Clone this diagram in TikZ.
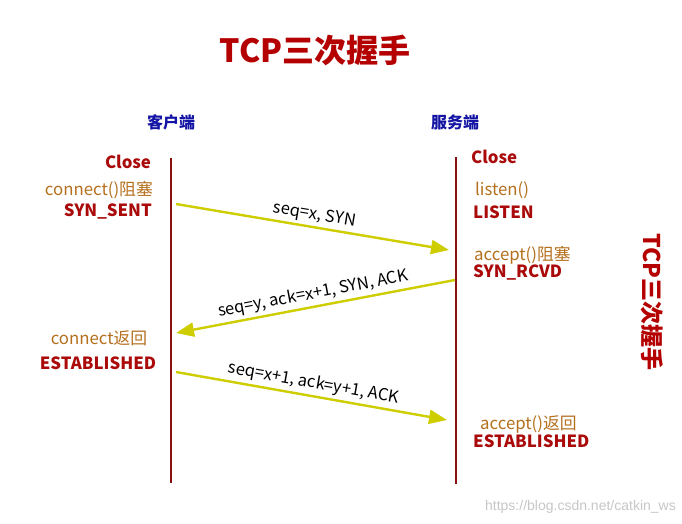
\documentclass[tikz,border=0pt]{standalone}
\usepackage{fontspec}
\setmainfont{Noto Sans CJK SC}
\newfontfamily\wmfont{Liberation Sans}
\usetikzlibrary{arrows.meta}
\definecolor{dred}{RGB}{170,10,10}
\definecolor{tred}{RGB}{180,0,0}
\definecolor{lifec}{RGB}{140,15,15}
\definecolor{brownc}{RGB}{181,112,30}
\definecolor{bluec}{RGB}{20,20,165}
\definecolor{msgc}{RGB}{205,205,0}
\tikzset{
  stateb/.style={font=\fontsize{16.8}{18}\selectfont\bfseries, text=dred, inner sep=0pt},
  callt/.style={font=\fontsize{16.8}{18}\selectfont, text=brownc, inner sep=0pt},
  sidet/.style={font=\fontsize{16}{18}\selectfont\bfseries, text=bluec, inner sep=0pt},
  lifeline/.style={draw=lifec, line width=2.4pt},
  msg/.style={draw=msgc, line width=2.4pt, -{Triangle[length=18pt,width=14pt]}},
  lbl/.style={font=\fontsize{16.5}{18}\selectfont, text=black, inner sep=3pt, sloped, above}
}
\begin{document}
\begin{tikzpicture}[x=1pt,y=-1pt]
\useasboundingbox (0,0) rectangle (682,524);
\fill[white] (0,0) rectangle (682,524);
% title
\node[font=\fontsize{32}{36}\selectfont\bfseries, text=tred, inner sep=0pt] (title) at (315,50) {TCP三次握手};
\node[sidet] (client) at (171,122) {客户端};
\node[sidet] (server) at (455,122) {服务端};
% lifelines
\coordinate (ctop) at (171,158);
\coordinate (cbot) at (171,483);
\coordinate (stop) at (456,157);
\coordinate (sbot) at (456,484);
\draw[lifeline] (ctop) -- (cbot);
\draw[lifeline] (stop) -- (sbot);
% client states
\node[stateb] (cclose) at (128,162) {Close};
\node[callt, anchor=east] (cconn) at (153,190) {connect()阻塞};
\node[stateb, anchor=east] (csent) at (152,212) {SYN\_SENT};
\node[callt] (cret) at (99,338) {connect返回};
\node[stateb] (cest) at (98,363) {ESTABLISHED};
% server states
\node[stateb, anchor=west] (sclose) at (471,157) {Close};
\node[callt, anchor=west] (slisten) at (475,190) {listen()};
\node[stateb, anchor=west] (slst) at (473,212) {LISTEN};
\node[callt, anchor=west] (sacc) at (474,255) {accept()阻塞};
\node[stateb, anchor=west] (srcvd) at (473,272) {SYN\_RCVD};
\node[callt, anchor=west] (saccret) at (480,424) {accept()返回};
\node[stateb, anchor=west] (sest) at (473,441) {ESTABLISHED};
% messages
\coordinate (m1s) at (176,204);
\coordinate (m1e) at (449,250);
\coordinate (m2s) at (455,280);
\coordinate (m2e) at (176,333);
\coordinate (m3s) at (176,372);
\coordinate (m3e) at (447,420);
\draw[msg] (m1s) -- node[lbl, pos=0.5] {seq=x, SYN} (m1e);
\draw[msg] (m2s) -- node[lbl, pos=0.5] {seq=y, ack=x+1, SYN, ACK} (m2e);
\draw[msg] (m3s) -- node[lbl, pos=0.5] {seq=x+1, ack=y+1, ACK} (m3e);
% vertical title
\node[font=\fontsize{23}{26}\selectfont\bfseries, text=tred, inner sep=0pt, rotate=-90] (vtitle) at (652,302) {TCP三次握手};
% watermark
\node[font=\wmfont\fontsize{14}{16}\selectfont, text=black!22, inner sep=0pt, anchor=east] (wm) at (676,507) {https://blog.csdn.net/catkin\_ws};
\end{tikzpicture}
\end{document}
